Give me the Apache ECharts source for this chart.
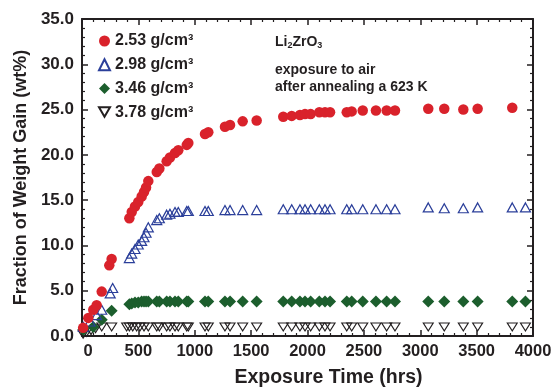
<!DOCTYPE html>
<html><head><meta charset="utf-8">
<script src="https://cdn.jsdelivr.net/npm/echarts@6/dist/echarts.min.js"></script>
<style>html,body{margin:0;padding:0;background:#fff}#c{width:555px;height:390px}</style>
</head><body><div id="c"></div>
<script>
const seriesNames = ['2.53 g/cm³', '2.98 g/cm³', '3.46 g/cm³', '3.78 g/cm³'];
const xTicks = [0, 500, 1000, 1500, 2000, 2500, 3000, 3500, 4000];
const yTicks = [0, 5, 10, 15, 20, 25, 30, 35];

const redT = [10,56,100,130,175,242,263,420,441,470,499,529,550,568,588,663,686,751,780,825,854,929,943,1091,1120,1268,1313,1425,1549,1785,1860,1933,1978,2028,2105,2155,2200,2348,2392,2490,2607,2702,2776,3071,3213,3382,3509,3816];
const redV = [0.9,2.0,2.9,3.4,4.9,7.8,8.5,13.0,13.7,14.3,14.8,15.4,15.9,16.4,17.1,18.1,18.5,19.3,19.7,20.2,20.5,21.1,21.3,22.3,22.5,23.1,23.3,23.7,23.8,24.2,24.3,24.4,24.5,24.5,24.7,24.7,24.7,24.7,24.8,24.9,24.9,24.9,24.9,25.1,25.1,25.0,25.1,25.2];

const blueT = [12,71,130,175,250,272,420,441,470,499,529,550,568,588,663,686,751,780,825,854,929,943,1091,1120,1268,1313,1425,1549,1785,1860,1933,1978,2028,2105,2155,2200,2348,2392,2490,2607,2702,2776,3071,3213,3382,3509,3816,3933];
const blueV = [1.0,1.6,2.3,2.9,4.7,5.3,8.6,9.1,9.6,10.1,10.5,10.9,11.4,12.0,12.8,13.0,13.4,13.5,13.7,13.7,13.8,13.8,13.8,13.8,13.9,13.9,13.9,13.9,14.0,14.0,14.0,14.0,14.0,14.0,14.0,14.0,14.0,14.0,14.0,14.0,14.0,14.0,14.2,14.1,14.1,14.2,14.2,14.2];

const greenT = [12,100,175,263,420,441,470,499,529,550,568,588,663,686,751,780,825,854,929,943,1091,1120,1268,1313,1425,1549,1785,1860,1933,1978,2028,2105,2155,2200,2348,2392,2490,2607,2702,2776,3071,3213,3382,3509,3816,3933];
const greenV = [0.7,1.0,1.8,2.8,3.5,3.6,3.7,3.7,3.8,3.8,3.8,3.8,3.8,3.8,3.8,3.8,3.8,3.8,3.8,3.8,3.8,3.8,3.8,3.8,3.8,3.8,3.8,3.8,3.8,3.8,3.8,3.8,3.8,3.8,3.8,3.8,3.8,3.8,3.8,3.8,3.8,3.8,3.8,3.8,3.8,3.8];

const blackT = [10,40,80,120,175,263,396,420,450,485,514,550,588,663,686,751,780,825,854,929,943,1091,1120,1268,1313,1425,1549,1785,1860,1933,1978,2028,2105,2155,2200,2348,2392,2490,2607,2702,2776,3071,3213,3382,3509,3816,3933];
const blackV = [0.2,0.4,0.6,0.8,1.0,1.0,1.0,1.0,1.0,1.0,1.0,1.0,1.0,1.0,1.0,1.0,1.0,1.0,1.0,1.0,1.0,1.0,1.0,1.0,1.0,1.0,1.0,1.0,1.0,1.0,1.0,1.0,1.0,1.0,1.0,1.0,1.0,1.0,1.0,1.0,1.0,1.0,1.0,1.0,1.0,1.0,1.0];

const FONT = '"Liberation Sans", Arial, Helvetica, sans-serif';
const TXT = '#231f20';
const pair = (t, v) => t.map((x, i) => [x, v[i]]);
const downTri = 'path://M0,0L10,0L5,8.66Z';

const lineStyle = {color: TXT, width: 2};
function xAx(pos, labels) {
  return {
    type: 'value', position: pos, min: xTicks[0], max: xTicks[xTicks.length - 1], interval: xTicks[1] - xTicks[0],
    splitLine: {show: false},
    axisLine: {show: true, onZero: false, lineStyle},
    axisTick: {show: true, inside: true, length: 6, lineStyle: {color: TXT, width: 1.5}},
    minorTick: {show: true, splitNumber: 5, length: 3, lineStyle: {color: TXT, width: 1.2}},
    axisLabel: labels ? {
      show: true, margin: 7, fontFamily: FONT, fontWeight: 'bold', fontSize: 16.5, color: TXT,
      formatter: v => v === 0 ? '{z|0}' : String(v),
      rich: {z: {fontFamily: FONT, fontWeight: 'bold', fontSize: 16.5, color: TXT, padding: [0, 0, 0, 12]}}
    } : {show: false},
    name: labels ? 'Exposure Time (hrs)' : '',
    nameLocation: 'middle', nameGap: 32,
    nameTextStyle: {fontFamily: FONT, fontWeight: 'bold', fontSize: 19.5, color: TXT, padding: [0, 0, 0, 42]}
  };
}
function yAx(pos, labels) {
  return {
    type: 'value', position: pos, min: yTicks[0], max: yTicks[yTicks.length - 1], interval: yTicks[1] - yTicks[0],
    splitLine: {show: false},
    axisLine: {show: true, onZero: false, lineStyle},
    axisTick: {show: true, inside: true, length: 6, lineStyle: {color: TXT, width: 1.5}},
    minorTick: {show: true, splitNumber: 5, length: 3, lineStyle: {color: TXT, width: 1.2}},
    axisLabel: labels ? {
      show: true, margin: 8, fontFamily: FONT, fontWeight: 'bold', fontSize: 17, color: TXT,
      formatter: v => v.toFixed(1)
    } : {show: false},
    name: labels ? 'Fraction of Weight Gain (wt%)' : '',
    nameLocation: 'middle', nameGap: 48,
    nameTextStyle: {fontFamily: FONT, fontWeight: 'bold', fontSize: 18, color: TXT}
  };
}

const chart = echarts.init(document.getElementById('c'), null, {renderer: 'canvas'});
chart.setOption({
  animation: false,
  backgroundColor: '#fff',
  grid: {left: 82, right: 22, top: 19, bottom: 54, containLabel: false, outerBoundsMode: 'none'},
  xAxis: [xAx('bottom', true), xAx('top', false)],
  yAxis: [yAx('left', true), yAx('right', false)],
  legend: {
    orient: 'vertical', left: 93, top: 28, itemGap: 7.7, itemWidth: 11, itemHeight: 11,
    data: seriesNames,
    textStyle: {fontFamily: FONT, fontWeight: 'bold', fontSize: 16, color: TXT, lineHeight: 16}
  },
  graphic: [
    {type: 'text', left: 275, top: 35, style: {
      text: 'Li{s|2}ZrO{s|3}', fontFamily: FONT, fontWeight: 'bold', fontSize: 14, fill: TXT,
      rich: {s: {fontFamily: FONT, fontWeight: 'bold', fontSize: 9, fill: TXT, verticalAlign: 'bottom', padding: [8, 0, 0, 0]}}
    }},
    {type: 'text', left: 275, top: 62, style: {
      text: 'exposure to air\nafter annealing a 623 K', fontFamily: FONT, fontWeight: 'bold', fontSize: 14, lineHeight: 17, fill: TXT
    }}
  ],
  series: [
    {name: seriesNames[0], type: 'scatter', z: 5, symbol: 'circle', symbolSize: 10.5,
     itemStyle: {color: '#d9222b', opacity: 1}, data: pair(redT, redV)},
    {name: seriesNames[1], type: 'scatter', z: 4, symbol: 'triangle', symbolSize: [10, 9],
     itemStyle: {color: 'rgba(255,255,255,0)', borderColor: '#2b3f9a', borderWidth: 1.2, opacity: 1}, data: pair(blueT, blueV)},
    {name: seriesNames[2], type: 'scatter', z: 3, symbol: 'diamond', symbolSize: [12, 12],
     itemStyle: {color: '#1c5e2d', opacity: 1}, data: pair(greenT, greenV)},
    {name: seriesNames[3], type: 'scatter', z: 2, symbol: downTri, symbolSize: [10, 8],
     itemStyle: {color: 'rgba(255,255,255,0)', borderColor: '#231f20', borderWidth: 1.1, opacity: 1}, data: pair(blackT, blackV)}
  ]
});
</script></body></html>
